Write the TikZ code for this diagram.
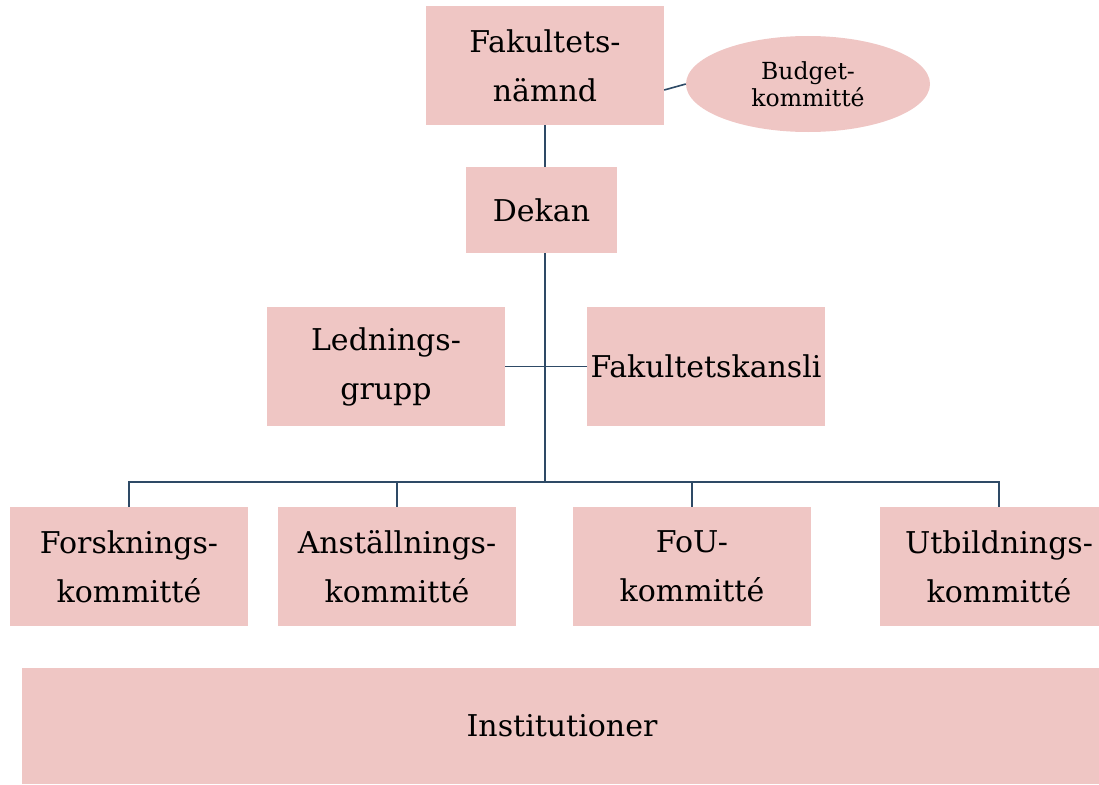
\documentclass[tikz,border=0pt]{standalone}
\usepackage{fontspec}
\setmainfont{DejaVu Serif}
\usetikzlibrary{shapes.geometric}
\definecolor{boxpink}{RGB}{239,198,196}
\definecolor{linkblue}{RGB}{46,74,102}

\begin{document}
\begin{tikzpicture}[x=1pt,y=-1pt,
    unit/.style={fill=boxpink, minimum width=238pt, minimum height=119pt,
      inner sep=1pt, align=center, font=\fontsize{30}{49}\selectfont},
    link/.style={draw=linkblue, line width=1.6pt}]
    \clip (0,0) rectangle (1099,784);
    \node[unit] (fn) at (545,65.5) {Fakultets-\\nämnd};
    \node[ellipse, fill=boxpink, minimum width=244pt, minimum height=96pt,
      inner sep=1pt, align=center, font=\fontsize{23.5}{27}\selectfont] (bk) at (808,84) {Budget-\\kommitté};
    \node[unit, minimum width=151pt, minimum height=86pt] (dek) at (541.5,210) {Dekan};
    \node[unit] (lg) at (386,366.5) {Lednings-\\grupp};
    \node[unit] (fk) at (706,366.5) {Fakultetskansli};
    \node[unit] (fo) at (129,566.5) {Forsknings-\\kommitté};
    \node[unit] (an) at (397,566.5) {Anställnings-\\kommitté};
    \node[unit] (fou) at (692,566.5) {FoU-\\kommitté};
    \node[unit] (ut) at (999,566.5) {Utbildnings-\\kommitté};
    \node[unit, minimum width=1080pt, minimum height=116pt] (inst) at (562,726) {Institutioner};
    \coordinate (bus) at (545,482);
    \draw[link] (fn.south) -- (fn.south |- dek.north);
    \draw[link] (fn.south |- dek.south) -- (bus);
    \draw[link] ([yshift=-24.5pt]fn.east) -- (bk.west);
    \draw[link] (lg.east) -- (fk.west);
    \draw[link] (fo.north) |- (bus) -| (ut.north);
    \draw[link] (an.north) -- (an.north |- bus);
    \draw[link] (fou.north) -- (fou.north |- bus);
\end{tikzpicture}
\end{document}
